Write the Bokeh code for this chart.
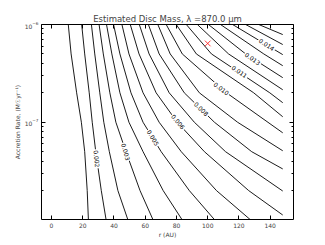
from bokeh.plotting import figure
from bokeh.models import (Range1d, FixedTicker, LinearAxis, LogAxis, ColumnDataSource,
                          CustomJSTickFormatter, LogTickFormatter)
from bokeh.core.properties import value
from bokeh.embed import file_html
from bokeh.resources import INLINE
import math

# accretion rates at which each contour's radius was read (Msun/yr)
mdot_grid = [1e-6, 5e-7, 2e-7, 1e-7, 5e-8, 2e-8, 1e-8]
r_edge = 148.0  # outer edge of computed grid (AU)

# radius (AU) of each contour at the accretion rates above (lines stop at the right edge)
line_r = [
    [10.75, 12.56, 16.10, 19.12, 21.25, 22.86, 23.63],
    [19.32, 21.25, 24.15, 26.08, 28.33, 31.87, 34.97],
    [25.56, 27.69, 30.91, 33.48, 37.02, 42.50, 48.94],
    [30.46, 33.16, 37.35, 41.21, 47.65, 56.66, 65.04],
    [35.22, 38.63, 43.79, 49.58, 58.60, 71.47, 83.71],
    [39.73, 43.79, 50.87, 58.60, 70.19, 88.22, 104.51],
    [45.07, 49.58, 58.60, 68.90, 83.06, 105.60, 127.50],
    [50.42, 56.02, 66.97, 80.49, 97.88, 126.21],
    [56.21, 62.46, 75.34, 91.44, 111.40],
    [62.01, 68.90, 85.00, 104.31, 128.14],
    [68.06, 75.98, 94.66, 119.12],
    [73.41, 83.71, 112.04],
    [79.85, 92.72, 129.43],
    [86.29, 102.38, 139.73],
    [93.37, 113.33],
    [100.45, 124.27],
    [108.18, 135.87],
    [115.91],
    [124.27],
    [132.64],
]
# accretion rate where contours 8..20 leave through the right edge
edge_mdot = [1.125e-8, 1.98e-8, 3.33e-8, 5.11e-8, 7.80e-8, 1.138e-7,
             1.585e-7, 2.15e-7, 2.86e-7, 3.79e-7, 4.92e-7, 6.24e-7, 7.89e-7]

# contour labels
label_text = ["0.002", "0.003", "0.005", "0.006", "0.008", "0.010", "0.011", "0.013", "0.014"]
label_r = [29.0, 47.6, 65.0, 81.1, 95.9, 108.8, 120.4, 128.8, 137.8]
label_mdot = [4.23e-8, 4.98e-8, 6.93e-8, 1.01e-7, 1.37e-7, 2.21e-7, 3.30e-7, 4.48e-7, 6.24e-7]
label_angle_deg = [-84, -74, -58, -50, -44, -36, -35, -35, -34]

# observed point
obs_r = [100.0]
obs_mdot = [6.4e-7]

x_ticks = [0, 20, 40, 60, 80, 100, 120, 140]
y_major = [1e-7, 1e-6]
y_minor = [2e-8, 3e-8, 4e-8, 5e-8, 6e-8, 7e-8, 8e-8, 9e-8,
           2e-7, 3e-7, 4e-7, 5e-7, 6e-7, 7e-7, 8e-7, 9e-7]

FONT = "DejaVu Sans"

p = figure(width=325, height=245,
           x_range=Range1d(-6.4, 154.9), y_range=Range1d(1.012e-8, 1e-6),
           y_axis_type="log", output_backend="svg", toolbar_location=None,
           min_border_left=41, min_border_right=32, min_border_top=24, min_border_bottom=26)

p.title.text = "Estimated Disc Mass, \u03bb =870.0 \u03bcm"
p.title.text_font = FONT
p.title.text_font_size = "8.5px"
p.title.text_font_style = "normal"
p.title.align = "center"
p.title.standoff = 1
p.title.offset = 0

p.grid.visible = False
p.outline_line_color = "black"
p.outline_line_width = 1
p.background_fill_color = "white"
p.border_fill_color = "white"

# contours
n_edge_start = 7
for i, rs in enumerate(line_r):
    xs = list(rs)
    ys = list(mdot_grid[:len(rs)])
    if i >= n_edge_start:
        xs.append(r_edge)
        ys.append(edge_mdot[i - n_edge_start])
    p.line(xs, ys, line_color="black", line_width=0.9)

src = ColumnDataSource(dict(x=label_r, y=label_mdot, t=label_text,
                            a=[math.radians(a) for a in label_angle_deg]))
p.text(x="x", y="y", text="t", angle="a", source=src,
       text_font=value(FONT), text_font_size="6px", text_color="black",
       text_align="center", text_baseline="middle",
       background_fill_color="white", padding=1)

p.scatter(obs_r, obs_mdot, marker="x", size=8, line_color="#ff2020", line_width=0.9)

# axes styling
for ax in [p.xaxis[0], p.yaxis[0]]:
    ax.major_tick_in = 4
    ax.major_tick_out = 0
    ax.minor_tick_in = 2
    ax.minor_tick_out = 0
    ax.axis_line_color = None
    ax.major_tick_line_color = "black"
    ax.minor_tick_line_color = "black"
    ax.major_label_text_font = FONT
    ax.major_label_text_font_size = "6px"
    ax.major_label_standoff = 3
    ax.axis_label_text_font = FONT
    ax.axis_label_text_font_size = "6px"
    ax.axis_label_text_font_style = "normal"
    ax.axis_label_standoff = 1

p.xaxis[0].ticker = FixedTicker(ticks=x_ticks)
p.xaxis[0].minor_tick_line_color = None
p.xaxis[0].axis_label = "r (AU)"
p.xaxis[0].axis_label_standoff = 0
p.yaxis[0].ticker = FixedTicker(ticks=y_major, minor_ticks=y_minor)
p.yaxis[0].formatter = LogTickFormatter()
p.yaxis[0].axis_label = "Accretion Rate, (M\u2609yr\u207b\u00b9)"

blank = CustomJSTickFormatter(code="return ''")
top = LinearAxis(ticker=FixedTicker(ticks=x_ticks), major_tick_in=4, major_tick_out=0,
                 minor_tick_line_color=None, axis_line_color=None,
                 formatter=blank, major_label_standoff=0)
right = LogAxis(ticker=FixedTicker(ticks=y_major, minor_ticks=y_minor),
                major_tick_in=4, major_tick_out=0, minor_tick_in=2, minor_tick_out=0,
                axis_line_color=None, formatter=blank, major_label_standoff=0)
p.add_layout(top, "above")
p.add_layout(right, "right")

open("out.html", "w").write(file_html(p, INLINE))
